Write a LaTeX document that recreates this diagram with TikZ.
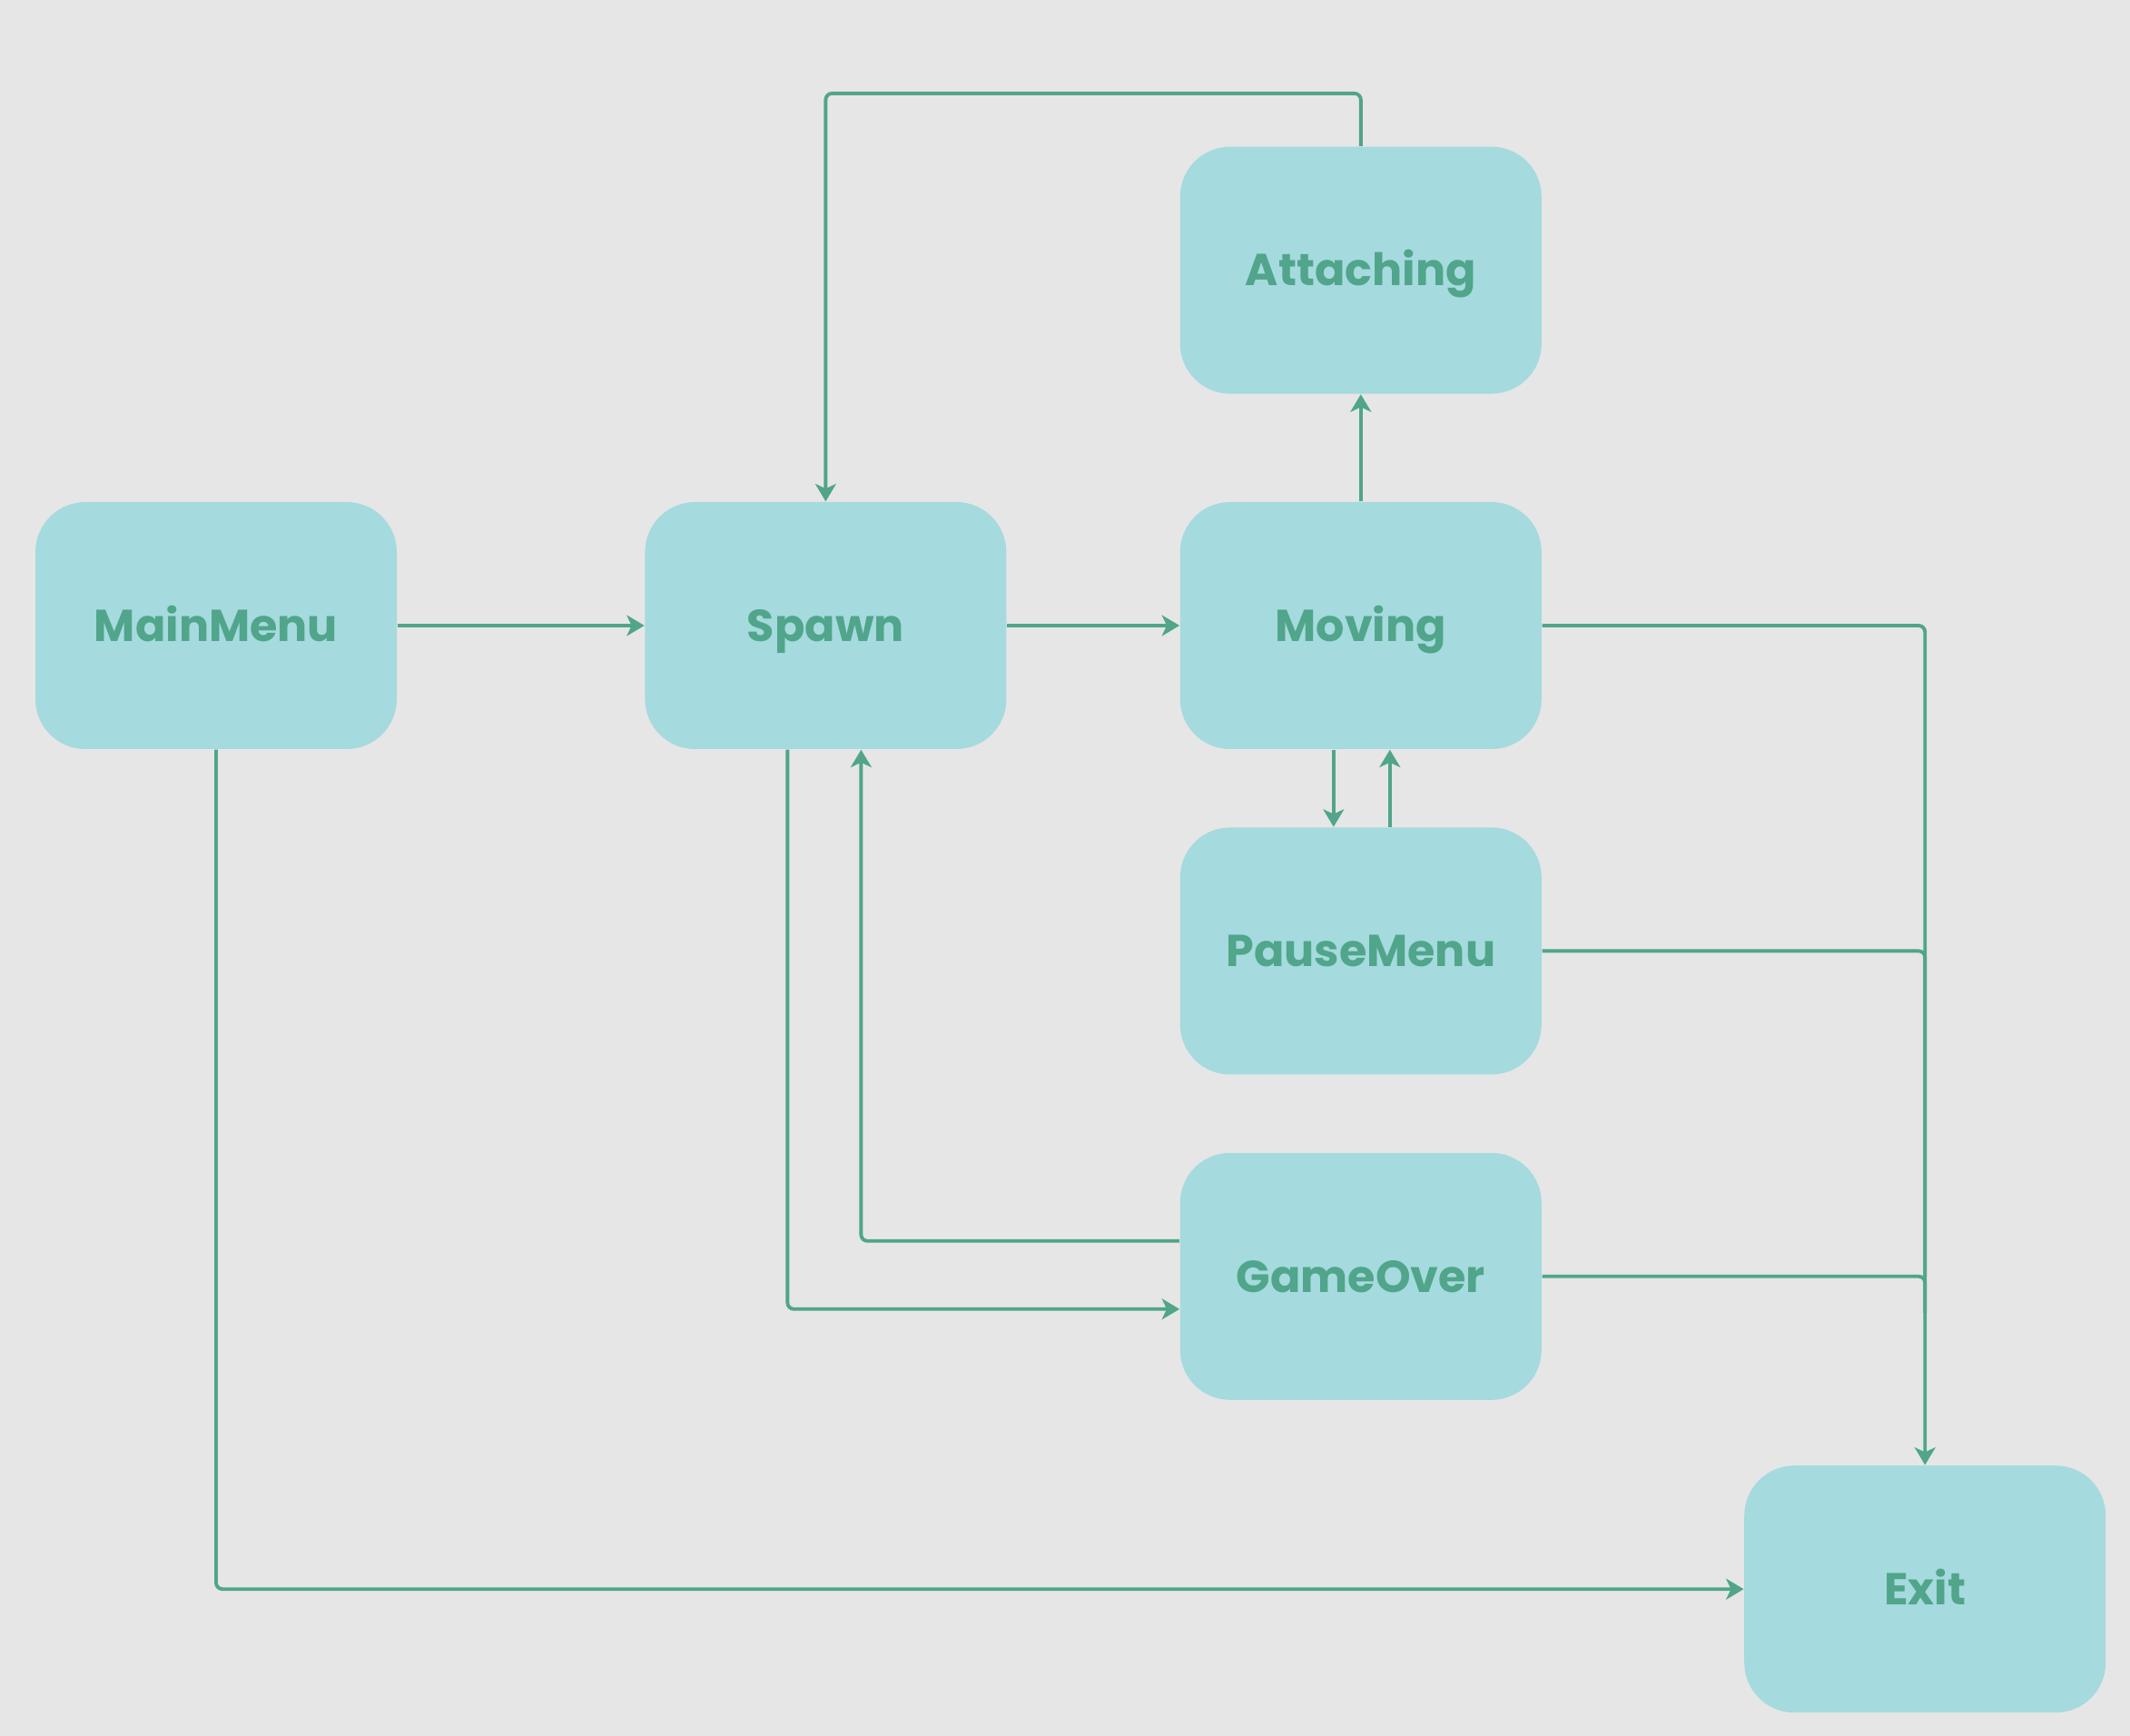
\documentclass[tikz,border=0pt]{standalone}
\usepackage{fontspec}
\setmainfont{Poppins}
\usetikzlibrary{positioning,arrows.meta}

\definecolor{bgcol}{HTML}{E6E6E6}
\definecolor{boxcol}{HTML}{A5DADE}
\definecolor{inkcol}{HTML}{50A58A}

\tikzstyle{state} = [fill=boxcol, rounded corners=0.55cm, minimum width=3.98cm, minimum height=2.72cm, inner sep=0pt, text=inkcol, text height=2.2ex, text depth=0.4ex, font=\fontsize{14}{17}\selectfont\bfseries]
\tikzstyle{link} = [draw=inkcol, line width=1.1pt, rounded corners=2pt, -{Stealth[length=5.5pt,width=6.5pt,inset=1.5pt]}]
\tikzstyle{merge} = [draw=inkcol, line width=1.1pt, rounded corners=2pt]

\begin{document}
\begin{tikzpicture}
    \fill[bgcol] (0,0) rectangle (23.46,-19.12);
    \useasboundingbox (0,0) rectangle (23.46,-19.12);

    \node[state] (mainmenu) at (2.38,-6.89) {MainMenu};
    \node[state, right=2.72cm of mainmenu] (spawn) {Spawn};
    \node[state, right=1.9cm of spawn] (moving) {Moving};
    \node[state, above=1.18cm of moving] (attaching) {Attaching};
    \node[state, below=0.85cm of moving] (pausemenu) {PauseMenu};
    \node[state, below=0.85cm of pausemenu] (gameover) {GameOver};
    \node[state, below right=0.71cm and 2.22cm of gameover.south east, anchor=north west] (exit) {Exit};

    \draw[link] (mainmenu) -- (spawn);
    \draw[link] (spawn) -- (moving);
    \draw[link] (moving) -- (attaching);
    \draw[link] (attaching.north) -- ++(0,0.58) -| (spawn.north);
    \draw[link] ([xshift=-0.3cm]moving.south) -- ([xshift=-0.3cm]pausemenu.north);
    \draw[link] ([xshift=0.32cm]pausemenu.north) -- ([xshift=0.32cm]moving.south);
    \draw[link] (moving.east) -| (exit.north);
    \draw[merge] (pausemenu.east) -| (gameover.east -| exit.north);
    \draw[merge] (gameover.east) -| ([yshift=-0.4cm]gameover.east -| exit.north);
    \draw[link] ([xshift=-0.42cm]spawn.south) |- ([yshift=-0.36cm]gameover.west);
    \draw[link] ([yshift=0.39cm]gameover.west) -| ([xshift=0.39cm]spawn.south);
    \draw[link] (mainmenu.south) |- (exit.west);
\end{tikzpicture}
\end{document}
